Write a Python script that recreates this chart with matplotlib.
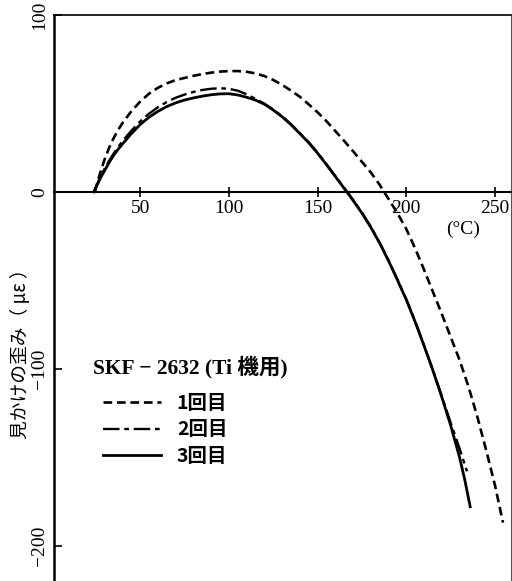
import numpy as np
import matplotlib
matplotlib.use("Agg")
import matplotlib.pyplot as plt

plt.rcParams['font.family'] = ['Liberation Serif', 'Noto Sans CJK JP']
plt.rcParams['axes.unicode_minus'] = True

# data: temperature (deg C) vs apparent strain (micro-strain)
temp_1 = [24.5, 26, 28, 30, 32.5, 35, 37.5, 40, 45, 50, 55, 60, 65, 70, 75, 80, 85, 90, 95, 100,
          105, 110, 115, 120, 125, 130, 135, 140, 145, 150, 155, 160, 165, 170,
          175, 180, 185, 190, 195, 200, 205, 210, 215, 220, 225, 230, 235, 240,
          245, 250, 254.5]
strain_1 = [0, 5.5, 12.3, 18.3, 24.8, 30.2, 34.8, 38.8, 45.5, 51, 55.5, 58.8, 61.3, 63.2, 64.4, 65.6, 66.6, 67.4, 68, 68.3,
            68.3, 67.9, 67, 65.5, 63.3, 60.5, 57.3, 53.8, 49.5, 45, 40, 34.4, 28.8, 23,
            17, 11, 4, -4, -12, -21, -32, -44, -56.5, -69, -82, -95, -110, -127,
            -146, -166, -187]

temp_2 = [24, 25.5, 27, 28.5, 30, 32.5, 35, 37.5, 40, 45, 50, 55, 60, 65, 70, 75, 80, 85, 90, 95, 100,
          105, 110, 115, 120, 125, 130, 135, 140, 145, 150, 155, 160, 165, 170,
          175, 180, 185, 190, 195, 200, 205, 210, 215, 220, 225, 230, 234.2]
strain_2 = [0, 3.6, 7, 10.2, 13, 17.5, 21.5, 25.2, 28.5, 34.5, 39.8, 44.2, 47.8, 50.8, 53.2, 55, 56.5, 57.6, 58.3, 58.6, 58.3,
            57.2, 55.2, 52.6, 49.9, 46.6, 42.8, 38.3, 33.3, 28.1, 22.2, 15.7, 9, 2.3, -4.5,
            -11.7, -19.7, -28.7, -38.7, -49.5, -60.7, -73.2, -86.7, -100.7, -115.5, -130.5, -145, -158]

temp_3 = [24, 25.5, 27, 28.5, 30, 32.5, 35, 37.5, 40, 45, 50, 55, 60, 65, 70, 75, 80, 85, 90, 95, 100,
          105, 110, 115, 120, 125, 130, 135, 140, 145, 150, 155, 160, 165, 166.5,
          170, 175, 180, 185, 190, 195, 200, 205, 210, 215, 220, 225, 230, 233, 236]
strain_3 = [0, 3.3, 6.5, 9.4, 12, 16.5, 20.5, 23.9, 27, 32.8, 38, 42.2, 45.5, 48.2, 50.3, 51.9, 53.1, 54.1, 54.9, 55.4, 55.5,
            54.8, 53.5, 51.9, 49.6, 46.3, 42.5, 38, 33, 27.8, 21.9, 15.4, 8.7, 2, 0,
            -4.8, -12, -20, -29, -39, -49.8, -61, -73.5, -87, -101, -116, -132, -150, -163, -178]

labels = ["1回目", "2回目", "3回目"]
x_ticks = [50, 100, 150, 200, 250]
y_ticks = [-200, -100, 0, 100]

fig = plt.figure(figsize=(5.12, 5.81), dpi=100)
ax = fig.add_axes([54/512, 0, 457/512, 566/581])

ax.plot(temp_1, strain_1, color='black', lw=1.9, dashes=(3.3, 1.8), label=labels[0])
ax.plot(temp_2, strain_2, color='black', lw=1.7, dashes=(7, 2, 2, 2), label=labels[1])
ax.plot(temp_3, strain_3, color='black', lw=2.0, label=labels[2])

ax.set_xlim(1.5, 259)
ax.set_ylim(-220, 100)

# axis through zero
ax.spines['bottom'].set_position(('data', 0))
ax.spines['bottom'].set_linewidth(1.5)
ax.spines['left'].set_linewidth(1.8)
ax.spines['top'].set_linewidth(1.2)
ax.spines['right'].set_linewidth(0.8)
ax.spines['right'].set_color('#555555')

ax.set_xticks(x_ticks)
ax.set_yticks(y_ticks)
ax.tick_params(axis='x', direction='inout', length=7, width=1.2, pad=2, labelsize=14)
ax.tick_params(axis='y', direction='in', length=6, width=1.2, pad=4, labelsize=14)
for lab in ax.get_yticklabels():
    lab.set_rotation(90)
    lab.set_va('center')

ax.text(0.895, 0.622, "(°C)", transform=ax.transAxes, ha='center', va='center', fontsize=14)

ax.set_ylabel("見かけの歪み（ με ）", family=['Noto Sans CJK JP'], fontsize=13.5)
ax.yaxis.set_label_coords(-0.05, 0.41)

# legend title and entries
ax.text(0.085, 0.378, "SKF − 2632 (Ti 機用)", transform=ax.transAxes,
        ha='left', va='center', fontsize=15.5, fontweight='bold')
ax.legend(loc='upper left', bbox_to_anchor=(0.107, 0.331), frameon=False,
          borderpad=0, borderaxespad=0, handlelength=3.0, handletextpad=0.8,
          labelspacing=0.4,
          prop={'family': ['Noto Sans CJK JP'], 'weight': 'bold', 'size': 14})

fig.savefig("out.png", dpi=100)
